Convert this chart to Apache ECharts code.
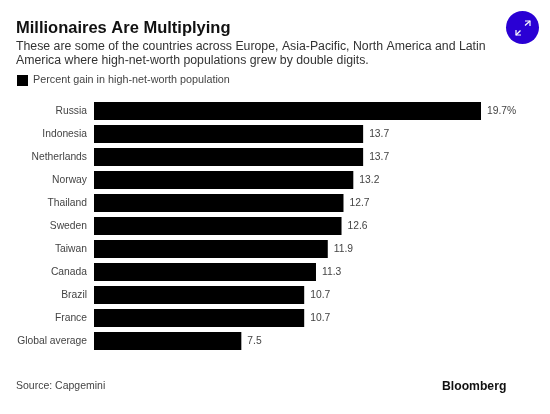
<!DOCTYPE html>
<html>
<head>
<meta charset="utf-8">
<style>html,body{margin:0;padding:0;background:#fff}#c{width:550px;height:414px}</style>
<script src="https://cdn.jsdelivr.net/npm/echarts@6/dist/echarts.min.js"></script>
</head>
<body>
<div id="c"></div>
<script>
const categories = ['Russia','Indonesia','Netherlands','Norway','Thailand','Sweden','Taiwan','Canada','Brazil','France','Global average'];
const gains = [19.7,13.7,13.7,13.2,12.7,12.6,11.9,11.3,10.7,10.7,7.5];
const seriesName = 'Percent gain in high-net-worth population';
const titleText = 'Millionaires Are Multiplying';
const subtitleText = 'These are some of the countries across Europe, Asia-Pacific, North America and Latin\nAmerica where high-net-worth populations grew by double digits.';
const sourceText = 'Source: Capgemini';
const brandText = 'Bloomberg';
const FONT = '"Liberation Sans", Arial, sans-serif';
const chart = echarts.init(document.getElementById('c'), null, {renderer:'canvas'});
chart.setOption({
  animation:false,
  backgroundColor:'#fff',
  title:[
    {text:titleText,left:16,top:20,padding:0,textStyle:{fontFamily:FONT,fontSize:16.5,fontWeight:'bold',color:'#111'}},
    {text:subtitleText,left:16,top:40,padding:0,textStyle:{fontFamily:FONT,fontSize:12.3,fontWeight:'normal',color:'#333',lineHeight:14}},
    {text:sourceText,left:16,top:381,padding:0,textStyle:{fontFamily:FONT,fontSize:10.5,fontWeight:'normal',color:'#444'}},
    {text:brandText,left:442,top:381,padding:0,textStyle:{fontFamily:FONT,fontSize:12.2,fontWeight:'bold',color:'#111'}}
  ],
  legend:{left:17,top:75,padding:0,itemWidth:11,itemHeight:11,itemGap:6,icon:'rect',
    textStyle:{fontFamily:FONT,fontSize:10.8,color:'#444',padding:[2,0,0,0]},data:[seriesName]},
  grid:{left:94,top:99.5,width:392.9,height:253,containLabel:false},
  xAxis:{type:'value',min:0,max:20,show:false},
  yAxis:{type:'category',inverse:true,data:categories,
    axisLine:{show:false},axisTick:{show:false},
    axisLabel:{fontFamily:FONT,fontSize:10.3,color:'#444',margin:7}},
  series:[{name:seriesName,type:'bar',data:gains,barWidth:18,itemStyle:{color:'#000'},
    label:{show:true,position:'right',distance:6,fontFamily:FONT,fontSize:10.3,color:'#444',
      formatter:p=>p.dataIndex===0?p.value.toFixed(1)+'%':p.value.toFixed(1)}}],
  graphic:[
    {type:'circle',shape:{cx:522.5,cy:27.5,r:16.5},style:{fill:'#2a00d4'}},
    {type:'line',shape:{x1:525,y1:25.5,x2:530,y2:21},style:{stroke:'#fff',lineWidth:1.2}},
    {type:'polyline',shape:{points:[[525,21],[530,21],[530,26]]},style:{stroke:'#fff',lineWidth:1.2,fill:'none'}},
    {type:'line',shape:{x1:520.5,y1:30.5,x2:516,y2:35},style:{stroke:'#fff',lineWidth:1.2}},
    {type:'polyline',shape:{points:[[516,30],[516,35],[521,35]]},style:{stroke:'#fff',lineWidth:1.2,fill:'none'}}
  ]
});
</script>
</body>
</html>
